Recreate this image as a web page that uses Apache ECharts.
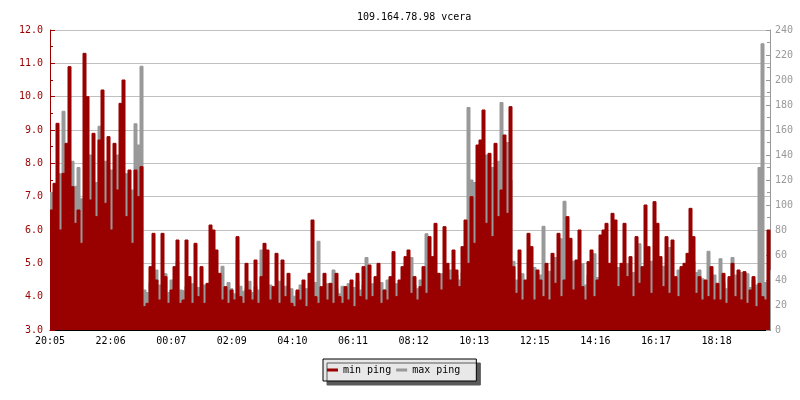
<!DOCTYPE html>
<html><head><meta charset="utf-8">
<script src="https://cdn.jsdelivr.net/npm/echarts@6/dist/echarts.min.js"></script>
<style>html,body{margin:0;padding:0;background:#fff}#c{width:800px;height:400px}</style>
</head><body><div id="c"></div>
<script>
const titleText = '109.164.78.98 vcera';
const seriesNames = ['min ping', 'max ping'];
const sampleMinutes = 6;          // one reading every 6 minutes
const xTickStep = 121.2;          // minutes between time ticks
const xTickLabels = ['20:05','22:06','00:07','02:09','04:10','06:11','08:12','10:13','12:15','14:16','16:17','18:18'];

// min ping (ms, left axis)
const minEvening = [6.6,7.4,9.2,6.0,7.7,8.6,10.9,7.3,6.2,6.6,5.6,11.3,10.0,6.9,8.9,6.4,8.7,10.2,6.8,8.8,6.0,8.6,7.2,9.8,10.5,6.4,7.8,5.6,7.8,7.0,7.9];
const minNight = [
 3.7,3.8,4.9,5.9,4.5,3.9,5.9,4.6,3.8,4.2,
 4.9,5.7,3.8,3.9,5.7,4.6,3.8,5.6,4.0,4.9,
 3.8,4.4,6.15,6.0,5.4,4.7,3.9,4.3,3.8,4.2,
 3.9,5.8,4.0,3.8,5.0,4.2,3.9,5.1,3.8,4.6,
 5.6,5.4,3.9,4.3,5.3,3.8,5.1,4.0,4.7,3.8,
 3.7,4.2,3.9,4.5,3.7,4.7,6.3,4.0,3.8,4.3,
 4.7,3.9,4.4,3.8,4.7,4.0,3.8,4.3,3.9,4.5,
 3.7,4.7,4.0,4.9,3.9,4.95,4.0,4.6,5.0,3.8,
 4.2,3.9,4.6,5.35,4.0,4.5,4.9,5.2,5.4,4.1,
 4.6,3.9,4.3,4.9,4.1,5.8,5.2,6.2,4.7,4.2,
 6.1,5.0,4.5,5.4,4.8,4.3,5.5,6.3];
const minMorning = [5.0,7.0,5.6,8.55,8.7,9.6,6.2,8.3,5.8,8.6,6.4,7.2,8.85,6.5,9.7,4.9];
const minDay = [
 4.1,5.4,3.9,4.5,5.9,5.5,3.9,4.8,4.5,4.0,
 5.0,3.9,5.3,4.4,5.9,4.0,4.5,6.4,5.75,4.2,
 5.1,6.0,4.3,3.9,5.05,5.4,4.0,4.5,5.85,6.0,
 6.2,5.0,6.5,6.3,4.3,5.0,6.2,4.6,5.2,4.0,
 5.8,4.4,4.9,6.75,5.5,4.1,6.85,6.2,5.2,4.3,
 5.8,4.1,5.7,4.6,4.0,4.9,5.0,5.3,6.65,5.8,
 4.1,4.6,3.9,4.5,4.0,4.9,3.9,4.4,3.9,4.7,
 3.8,4.6,5.0,4.0,4.8,3.9,4.75,3.8,4.2,4.6,
 3.7,4.4,4.0,3.9,6.0,4.8];

// max ping (ms, right axis)
const maxEvening = [110,95,70,125,175,110,60,135,115,130,105,70,120,140,75,118,163,90,135,70,128,85,140,95,80,125,110,112,165,148,211];
const maxNight = [
 32,30,38,34,48,36,33,45,30,40,
 36,55,32,31,35,29,37,31,34,29,
 36,31,33,37,30,35,51,31,38,33,
 29,56,35,31,33,39,30,35,32,64,
 38,33,36,30,34,39,31,35,29,33,
 27,31,36,28,33,30,35,38,71,33,
 31,37,30,48,33,29,35,32,37,30,
 34,39,32,36,58,33,37,31,35,38,
 32,40,34,31,37,33,39,35,32,58,
 36,33,40,37,77,38,43,35,41,45,
 37,42,48,39,44,40,46,60];
const maxMorning = [178,120,118,110,125,105,140,118,130,112,135,182,140,150,120,55];
const maxDay = [
 40,36,45,38,34,42,50,37,44,83,
 40,47,38,58,44,73,103,41,50,55,
 39,46,53,36,44,40,61,42,38,48,
 44,52,38,46,50,41,44,53,37,46,
 40,69,49,41,47,55,43,38,46,51,
 38,66,43,40,48,41,45,37,49,55,
 46,48,41,37,63,39,44,35,57,38,
 33,41,58,44,36,46,38,45,34,40,
 36,130,229,38,40,40];

const minPing = [].concat(minEvening, minNight, minMorning, minDay);
const maxPing = [].concat(maxEvening, maxNight, maxMorning, maxDay);
const toPairs = arr => arr.map((v, i) => [i * sampleMinutes, v]);

const FONT = '"DejaVu Sans Mono", monospace';
const RED = '#990000', GRAY = '#999999';

const chart = echarts.init(document.getElementById('c'), null, {renderer: 'canvas'});
chart.setOption({
  animation: false,
  backgroundColor: '#ffffff',
  title: {
    text: titleText, left: 352, top: 7,
    textStyle: {fontFamily: FONT, fontSize: 10, fontWeight: 'normal', color: '#000'}
  },
  legend: {
    data: seriesNames, left: 323, top: 359, orient: 'horizontal',
    icon: 'rect', itemWidth: 11, itemHeight: 3, itemGap: 5,
    padding: [6, 16, 6, 4],
    backgroundColor: '#e8e8e8', borderColor: '#000', borderWidth: 1, borderRadius: 0,
    shadowColor: '#5a5a5a', shadowOffsetX: 4, shadowOffsetY: 4, shadowBlur: 0,
    selectedMode: false,
    textStyle: {fontFamily: FONT, fontSize: 10, color: '#000'}
  },
  grid: {left: 50, right: 30, top: 30, bottom: 70},
  xAxis: {
    type: 'value', min: 0, max: 1440, interval: xTickStep,
    axisLine: {lineStyle: {color: '#000', width: 1}},
    axisTick: {inside: true, length: 5, lineStyle: {color: '#000'}},
    splitLine: {show: false},
    axisLabel: {
      fontFamily: FONT, fontSize: 10, color: '#000', margin: 6, showMaxLabel: false,
      formatter: v => {
        const k = Math.round(v / xTickStep);
        return (k < xTickLabels.length && Math.abs(k * xTickStep - v) < 0.5) ? xTickLabels[k] : '';
      }
    }
  },
  yAxis: [{
    type: 'value', min: 3, max: 12, interval: 1, position: 'left',
    axisLine: {show: true, lineStyle: {color: RED}},
    axisTick: {show: true, inside: true, length: 5, lineStyle: {color: RED}},
    minorTick: {show: true, splitNumber: 2, length: 3, lineStyle: {color: RED}},
    splitLine: {show: true, lineStyle: {color: '#c0c0c0', width: 1}},
    axisLabel: {fontFamily: FONT, fontSize: 10, color: RED, margin: 7, formatter: v => v.toFixed(1)}
  }, {
    type: 'value', min: 0, max: 240, interval: 20, position: 'right',
    axisLine: {show: true, lineStyle: {color: GRAY}},
    axisTick: {show: true, inside: true, length: 4, lineStyle: {color: GRAY}},
    minorTick: {show: true, splitNumber: 2, length: 3, lineStyle: {color: GRAY}},
    splitLine: {show: false},
    axisLabel: {fontFamily: FONT, fontSize: 10, color: GRAY, margin: 5}
  }],
  series: [{
    name: 'max ping', type: 'line', yAxisIndex: 1, step: 'end', z: 2,
    symbol: 'none', showSymbol: false,
    lineStyle: {color: GRAY, width: 1}, itemStyle: {color: GRAY},
    areaStyle: {color: GRAY, opacity: 1},
    data: toPairs(maxPing)
  }, {
    name: 'min ping', type: 'line', yAxisIndex: 0, step: 'end', z: 3,
    symbol: 'none', showSymbol: false,
    lineStyle: {color: RED, width: 1}, itemStyle: {color: RED},
    areaStyle: {color: RED, opacity: 1},
    data: toPairs(minPing)
  }]
});
</script>
</body></html>
